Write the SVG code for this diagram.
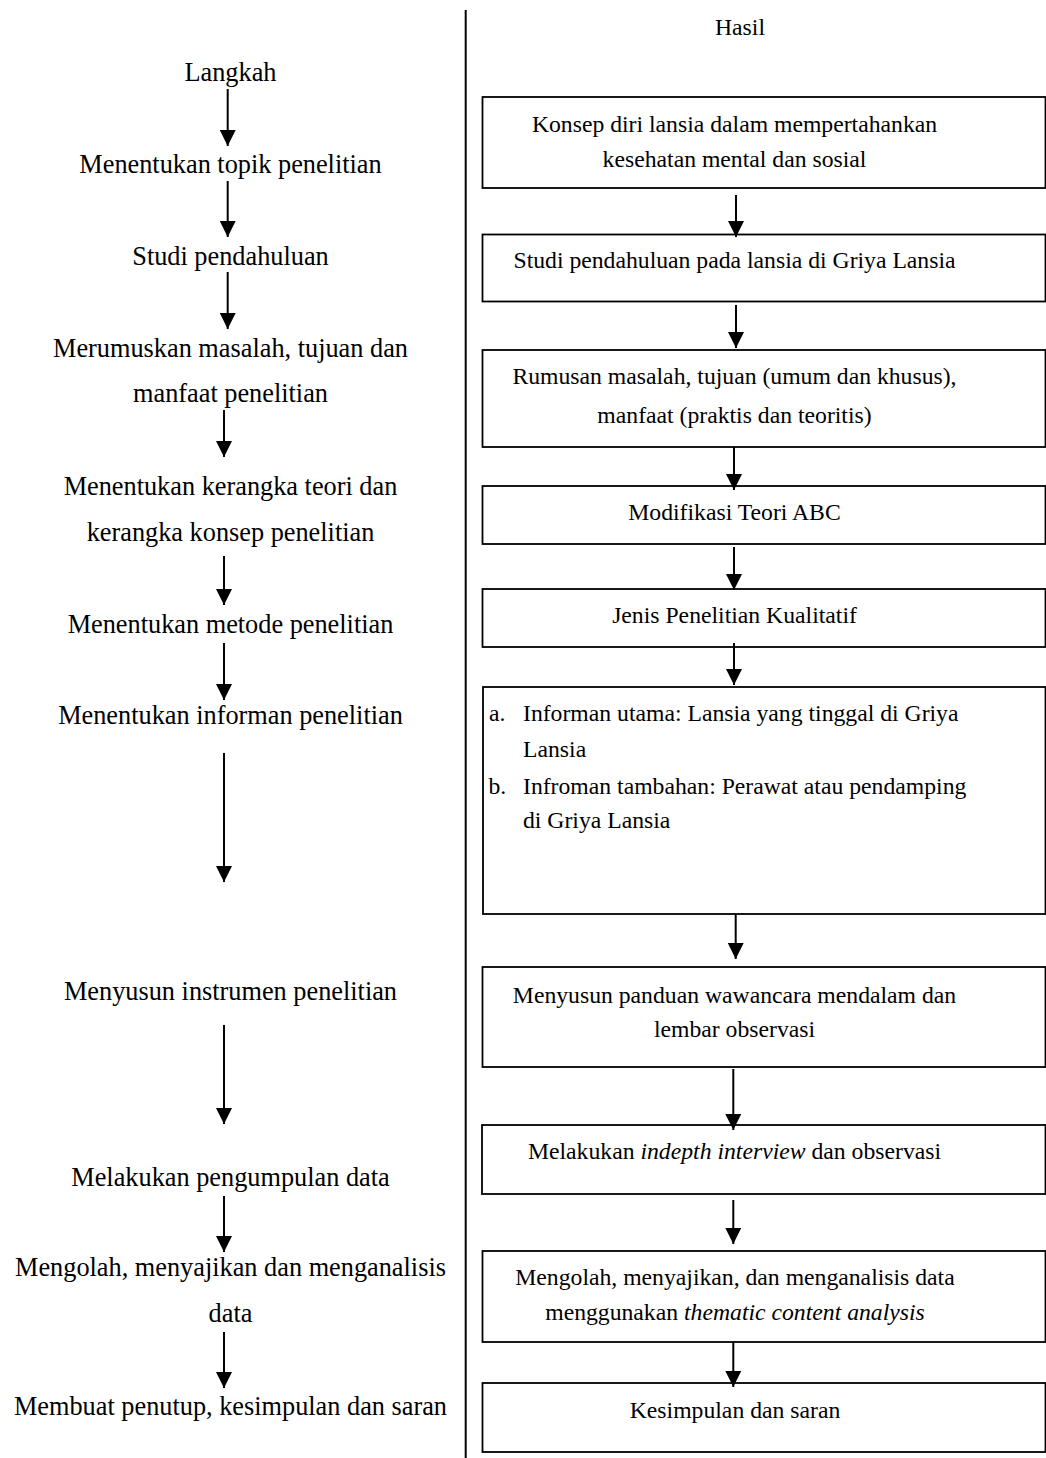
<svg xmlns="http://www.w3.org/2000/svg" width="1046" height="1458" viewBox="0 0 1046 1458">
<style>
.l{font-family:"Liberation Serif","Times New Roman",serif;font-size:26.3px;fill:#000;text-anchor:middle}
.r{font-family:"Liberation Serif","Times New Roman",serif;font-size:23.7px;fill:#000;text-anchor:middle}
.s{font-family:"Liberation Serif","Times New Roman",serif;font-size:23.7px;fill:#000}
.box{fill:#fff;stroke:#000;stroke-width:1.8}
.c{stroke:#000;stroke-width:2;fill:none;marker-end:url(#ah)}
</style>
<defs>
<marker id="ah" markerUnits="userSpaceOnUse" markerWidth="16" markerHeight="16" viewBox="0 0 16 16" refX="16" refY="8" orient="auto">
<path d="M0,0 L16,8 L0,16 Z" fill="#000"/>
</marker>
</defs>
<rect width="1046" height="1458" fill="#fff"/>
<line x1="465.7" y1="10" x2="465.7" y2="1458" stroke="#000" stroke-width="2"/>

<g id="left-steps">
<g id="s0"><text class="l" x="230.5" y="81">Langkah</text></g>
<g id="s1"><text class="l" x="230.5" y="173">Menentukan topik penelitian</text></g>
<g id="s2"><text class="l" x="230.5" y="265">Studi pendahuluan</text></g>
<g id="s3"><text class="l" x="230.5" y="357">Merumuskan masalah, tujuan dan</text><text class="l" x="230.5" y="402">manfaat penelitian</text></g>
<g id="s4"><text class="l" x="230.5" y="495">Menentukan kerangka teori dan</text><text class="l" x="230.5" y="541">kerangka konsep penelitian</text></g>
<g id="s5"><text class="l" x="230.5" y="633">Menentukan metode penelitian</text></g>
<g id="s6"><text class="l" x="230.5" y="724">Menentukan informan penelitian</text></g>
<g id="s7"><text class="l" x="230.5" y="1000">Menyusun instrumen penelitian</text></g>
<g id="s8"><text class="l" x="230.5" y="1186">Melakukan pengumpulan data</text></g>
<g id="s9"><text class="l" x="230.5" y="1276">Mengolah, menyajikan dan menganalisis</text><text class="l" x="230.5" y="1322">data</text></g>
<g id="s10"><text class="l" x="230.5" y="1415">Membuat penutup, kesimpulan dan saran</text></g>
</g>

<g id="hasil"><text class="r" x="740" y="35">Hasil</text></g>

<g id="b1"><rect class="box" x="482.5" y="97" width="563" height="91"/>
<text class="r" x="734.5" y="132">Konsep diri lansia dalam mempertahankan</text>
<text class="r" x="734.5" y="167">kesehatan mental dan sosial</text></g>
<g id="b2"><rect class="box" x="482.5" y="234.5" width="563" height="67"/>
<text class="r" x="734.5" y="268">Studi pendahuluan pada lansia di Griya Lansia</text></g>
<g id="b3"><rect class="box" x="482.5" y="350" width="563" height="97"/>
<text class="r" x="734.5" y="384">Rumusan masalah, tujuan (umum dan khusus),</text>
<text class="r" x="734.5" y="423">manfaat (praktis dan teoritis)</text></g>
<g id="b4"><rect class="box" x="482.5" y="486" width="563" height="58"/>
<text class="r" x="734.5" y="520">Modifikasi Teori ABC</text></g>
<g id="b5"><rect class="box" x="482.5" y="589" width="563" height="58"/>
<text class="r" x="734.5" y="623">Jenis Penelitian Kualitatif</text></g>
<g id="b6"><rect class="box" x="483" y="687" width="562.5" height="227"/>
<text class="s" x="489" y="721">a.</text><text class="s" x="523" y="721">Informan utama: Lansia yang tinggal di Griya</text>
<text class="s" x="523" y="757">Lansia</text>
<text class="s" x="488.5" y="794">b.</text><text class="s" x="523" y="794">Infroman tambahan: Perawat atau pendamping</text>
<text class="s" x="523" y="828">di Griya Lansia</text></g>
<g id="b7"><rect class="box" x="482.5" y="967" width="563" height="100"/>
<text class="r" x="734.5" y="1003">Menyusun panduan wawancara mendalam dan</text>
<text class="r" x="734.5" y="1037">lembar observasi</text></g>
<g id="b8"><rect class="box" x="482" y="1125" width="563.5" height="69"/>
<text class="r" x="734.5" y="1159">Melakukan <tspan font-style="italic">indepth interview</tspan> dan observasi</text></g>
<g id="b9"><rect class="box" x="482.5" y="1251" width="563" height="91"/>
<text class="r" x="735" y="1285">Mengolah, menyajikan, dan menganalisis data</text>
<text class="r" x="735" y="1320">menggunakan <tspan font-style="italic">thematic content analysis</tspan></text></g>
<g id="b10"><rect class="box" x="482.5" y="1383" width="563" height="69"/>
<text class="r" x="735" y="1418">Kesimpulan dan saran</text></g>

<g id="connectors">
<line class="c" x1="227.7" y1="89" x2="227.7" y2="146"/>
<line class="c" x1="227.7" y1="181" x2="227.7" y2="237"/>
<line class="c" x1="227.7" y1="272" x2="227.7" y2="329"/>
<line class="c" x1="224" y1="410" x2="224" y2="457"/>
<line class="c" x1="224" y1="556" x2="224" y2="605"/>
<line class="c" x1="224" y1="643" x2="224" y2="700"/>
<line class="c" x1="224" y1="753" x2="224" y2="882"/>
<line class="c" x1="224" y1="1025" x2="224" y2="1124"/>
<line class="c" x1="224" y1="1196" x2="224" y2="1252"/>
<line class="c" x1="224" y1="1332" x2="224" y2="1388"/>

<line class="c" x1="736" y1="195" x2="736" y2="237"/>
<line class="c" x1="736" y1="305" x2="736" y2="348"/>
<line class="c" x1="734" y1="447" x2="734" y2="490"/>
<line class="c" x1="734" y1="547" x2="734" y2="590"/>
<line class="c" x1="734" y1="643" x2="734" y2="685"/>
<line class="c" x1="735.7" y1="914" x2="735.7" y2="959"/>
<line class="c" x1="733.3" y1="1069" x2="733.3" y2="1130"/>
<line class="c" x1="733.3" y1="1200" x2="733.3" y2="1244"/>
<line class="c" x1="733.3" y1="1342" x2="733.3" y2="1387"/>
</g>
</svg>
